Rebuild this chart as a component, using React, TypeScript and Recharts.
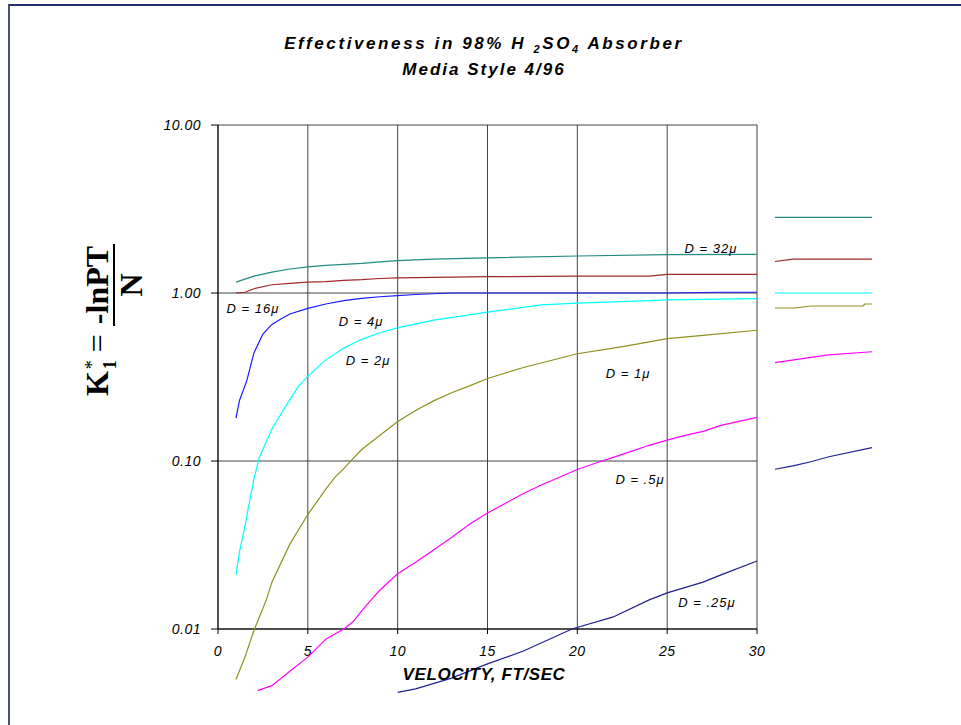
import React from "react";
import { LineChart, Line, XAxis, YAxis, CartesianGrid } from "recharts";

// velocity (ft/sec) and K1* readings, one pair of arrays per particle size
const d32X = [1, 2, 3, 4, 5, 6, 7, 8, 9, 10, 12, 15, 20, 25, 30];
const d32Y = [1.16, 1.26, 1.33, 1.39, 1.43, 1.46, 1.48, 1.5, 1.53, 1.56, 1.59, 1.62, 1.66, 1.69, 1.7];

const d16X = [1, 1.5, 2, 3, 4, 5, 6, 7, 8, 9, 10, 12, 15, 20, 24, 25, 30];
const d16Y = [1.0, 1.01, 1.06, 1.12, 1.14, 1.16, 1.17, 1.19, 1.2, 1.22, 1.23, 1.24, 1.25, 1.26, 1.26, 1.29, 1.29];

const d8X = [1, 1.2, 1.6, 2, 2.5, 3, 3.5, 4, 5, 6, 7, 8, 9, 10, 11, 12, 13, 15, 20, 25, 28, 30];
const d8Y = [0.18, 0.23, 0.3, 0.44, 0.57, 0.65, 0.7, 0.75, 0.81, 0.86, 0.9, 0.93, 0.95, 0.965, 0.98, 0.99, 1.0, 1.0, 1.0, 1.0, 1.01, 1.01];

const d4X = [1, 1.2, 1.5, 1.8, 2, 2.3, 3, 3.5, 4, 4.5, 5, 6, 7, 8, 9, 10, 12, 14, 15, 18, 20, 24, 25, 28, 30];
const d4Y = [0.021, 0.029, 0.041, 0.061, 0.078, 0.105, 0.155, 0.19, 0.232, 0.28, 0.32, 0.4, 0.47, 0.53, 0.58, 0.62, 0.69, 0.74, 0.77, 0.85, 0.87, 0.9, 0.91, 0.92, 0.925];

const d1X = [1, 1.5, 2, 2.7, 3, 4, 5, 6, 6.5, 7, 7.5, 8, 9, 10, 11, 12, 13, 14, 15, 17, 20, 22, 23, 25, 27, 30];
const d1Y = [0.005, 0.0068, 0.0098, 0.015, 0.019, 0.032, 0.048, 0.068, 0.08, 0.09, 0.103, 0.117, 0.142, 0.172, 0.2, 0.228, 0.255, 0.28, 0.31, 0.36, 0.435, 0.47, 0.49, 0.535, 0.56, 0.6];

const d05X = [2.2, 3, 4, 5, 6, 7, 7.5, 8, 8.5, 9, 10, 11, 12, 13, 14, 15, 16, 17, 18, 19, 20, 21, 22, 23, 24, 25, 26, 27, 28, 29, 30];
const d05Y = [0.0043, 0.0046, 0.0056, 0.0068, 0.0087, 0.01, 0.011, 0.0128, 0.0148, 0.017, 0.0213, 0.025, 0.0295, 0.035, 0.042, 0.049, 0.056, 0.064, 0.072, 0.08, 0.089, 0.097, 0.105, 0.114, 0.124, 0.133, 0.142, 0.15, 0.163, 0.172, 0.182];

const d025X = [10, 11, 13, 15, 17, 19.7, 22, 24, 25, 27, 28, 30];
const d025Y = [0.0042, 0.0044, 0.0051, 0.0062, 0.0074, 0.01, 0.0118, 0.0149, 0.0164, 0.019, 0.021, 0.0254];

// short stray segments drawn to the right of the plot
const tail32X = [31, 36.4];
const tail32Y = [2.82, 2.82];
const tail16X = [31, 32, 36.4];
const tail16Y = [1.54, 1.59, 1.59];
const tail4X = [31, 36.4];
const tail4Y = [1.0, 1.0];
const tail1X = [31, 32.1, 33, 35.9, 36, 36.4];
const tail1Y = [0.814, 0.814, 0.837, 0.837, 0.86, 0.86];
const tail05X = [31, 33, 34, 36.4];
const tail05Y = [0.385, 0.414, 0.428, 0.447];
const tail025X = [31, 32, 33, 34, 36.4];
const tail025Y = [0.0893, 0.0935, 0.099, 0.106, 0.12];

const xTicks = [0, 5, 10, 15, 20, 25, 30];
const yTicks = [0.01, 0.1, 1, 10];

const toPts = (xs: number[], ys: number[]) => xs.map((x, i) => ({ x, y: ys[i] }));

const series = [
  { key: "d32", xs: d32X, ys: d32Y, color: "#1f8a80" },
  { key: "d16", xs: d16X, ys: d16Y, color: "#a0282a" },
  { key: "d8", xs: d8X, ys: d8Y, color: "#1a1aff" },
  { key: "d4", xs: d4X, ys: d4Y, color: "#00ffff" },
  { key: "d1", xs: d1X, ys: d1Y, color: "#8f8f1f" },
  { key: "d05", xs: d05X, ys: d05Y, color: "#ff00ff" },
  { key: "d025", xs: d025X, ys: d025Y, color: "#202090" },
  { key: "t32", xs: tail32X, ys: tail32Y, color: "#1f8a80" },
  { key: "t16", xs: tail16X, ys: tail16Y, color: "#a0282a" },
  { key: "t4", xs: tail4X, ys: tail4Y, color: "#00ffff" },
  { key: "t1", xs: tail1X, ys: tail1Y, color: "#8f8f1f" },
  { key: "t05", xs: tail05X, ys: tail05Y, color: "#ff00ff" },
  { key: "t025", xs: tail025X, ys: tail025Y, color: "#202090" },
];

const notes = [
  { text: "D = 32\u03bc", left: 711, top: 249 },
  { text: "D = 16\u03bc", left: 253, top: 309 },
  { text: "D = 4\u03bc", left: 361, top: 322 },
  { text: "D = 2\u03bc", left: 368, top: 361 },
  { text: "D = 1\u03bc", left: 628, top: 374 },
  { text: "D = .5\u03bc", left: 640, top: 480 },
  { text: "D = .25\u03bc", left: 707, top: 603 },
];

const W = 961;
const H = 725;
const LEFT = 218;
const TOP = 125;
const PLOT_W = 539;
const PLOT_H = 504; // three decades
const X_MAX = 40;
const Y_MIN = Math.pow(10, -2.5);
const OV_W = (PLOT_W * X_MAX) / 30;
const OV_H = (PLOT_H * 3.5) / 3;

const sans = "'Liberation Sans', Arial, sans-serif";
const tickStyle = { fontSize: 14, fontStyle: "italic", fill: "#000", fontFamily: sans, letterSpacing: "0.5px" };

export default function App() {
  return (
    <div style={{ position: "absolute", left: 0, top: 0, width: W, height: H, background: "#fff", overflow: "hidden" }}>
      <div
        style={{
          position: "absolute",
          left: 8,
          top: 4,
          width: W - 8,
          height: H - 4,
          borderTop: "2px solid #26306a",
          borderLeft: "2px solid #4a5470",
          boxSizing: "border-box",
        }}
      />

      <div style={{ position: "absolute", left: 0, top: 0 }}>
        <LineChart width={W} height={H} margin={{ top: TOP, right: W - LEFT - PLOT_W, bottom: H - TOP - PLOT_H - 30, left: LEFT - 60 }}>
          <CartesianGrid stroke="#444" strokeWidth={1} />
          <XAxis
            type="number"
            dataKey="x"
            domain={[0, 30]}
            ticks={xTicks}
            allowDataOverflow
            height={30}
            tick={tickStyle}
            tickSize={5}
            tickMargin={12}
            stroke="#000"
          />
          <YAxis
            type="number"
            dataKey="y"
            scale="log"
            domain={[0.01, 10]}
            ticks={yTicks}
            allowDataOverflow
            width={60}
            tick={tickStyle}
            tickSize={7}
            tickMargin={10}
            tickFormatter={(v: number) => v.toFixed(2)}
            stroke="#000"
          />
        </LineChart>
      </div>

      <div style={{ position: "absolute", left: 0, top: 0 }}>
        <LineChart width={W} height={H} margin={{ top: TOP, right: W - LEFT - OV_W, bottom: H - TOP - OV_H, left: LEFT }}>
          <XAxis type="number" dataKey="x" domain={[0, X_MAX]} allowDataOverflow hide />
          <YAxis type="number" dataKey="y" scale="log" domain={[Y_MIN, 10]} allowDataOverflow hide />
          {series.map((s) => (
            <Line
              key={s.key}
              data={toPts(s.xs, s.ys)}
              dataKey="y"
              type="linear"
              stroke={s.color}
              strokeWidth={1.2}
              dot={false}
              isAnimationActive={false}
            />
          ))}
        </LineChart>
      </div>

      {notes.map((n) => (
        <div
          key={n.text}
          style={{
            position: "absolute",
            left: n.left - 50,
            top: n.top - 8,
            width: 100,
            textAlign: "center",
            fontFamily: sans,
            fontStyle: "italic",
            fontSize: 13,
            letterSpacing: "1px",
            lineHeight: "16px",
            color: "#000",
          }}
        >
          {n.text}
        </div>
      ))}

      <div
        style={{
          position: "absolute",
          left: 0,
          width: 968,
          top: 31,
          textAlign: "center",
          fontFamily: sans,
          fontWeight: "bold",
          fontStyle: "italic",
          fontSize: 17,
          letterSpacing: "2px",
          lineHeight: "26px",
          color: "#000",
        }}
      >
        <div style={{ height: 26, letterSpacing: "2.6px" }}>
          Effectiveness in 98% H{" "}
          <sub style={{ fontSize: 11, lineHeight: 0 }}>2</sub>SO<sub style={{ fontSize: 11, lineHeight: 0 }}>4</sub> Absorber
        </div>
        <div style={{ height: 26 }}>Media Style 4/96</div>
      </div>

      <div
        style={{
          position: "absolute",
          left: 484 - 150,
          width: 300,
          top: 665,
          textAlign: "center",
          fontFamily: sans,
          fontWeight: "bold",
          fontStyle: "italic",
          fontSize: 17,
          letterSpacing: "0.6px",
          lineHeight: "20px",
          color: "#000",
        }}
      >
        VELOCITY, FT/SEC
      </div>

      <div
        style={{
          position: "absolute",
          left: 113 - 110,
          top: 320 - 40,
          width: 220,
          height: 80,
          transform: "rotate(-90deg)",
          display: "flex",
          alignItems: "center",
          justifyContent: "center",
          fontFamily: "'Liberation Serif', 'Times New Roman', serif",
          fontWeight: "bold",
          fontSize: 32,
          color: "#000",
          whiteSpace: "nowrap",
        }}
      >
        <span>
          K
          <span style={{ display: "inline-flex", flexDirection: "column", verticalAlign: "middle", fontSize: 18, lineHeight: "18px", marginLeft: 2 }}>
            <span style={{ fontWeight: "normal" }}>*</span>
            <span>1</span>
          </span>
          <span style={{ fontWeight: "normal", margin: "0 8px" }}>=</span>
          <span style={{ display: "inline-flex", flexDirection: "column", alignItems: "center", lineHeight: "32px" }}>
            <span style={{ borderBottom: "2px solid #000", padding: "0 2px" }}>-lnPT</span>
            <span>N</span>
          </span>
        </span>
      </div>
    </div>
  );
}
